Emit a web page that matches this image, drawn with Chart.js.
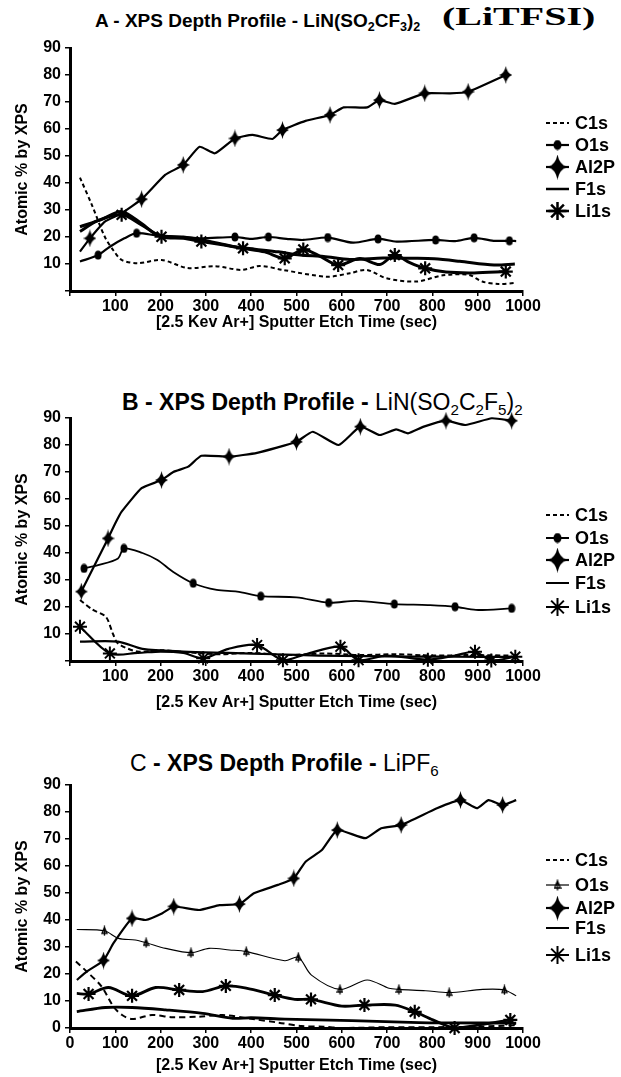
<!DOCTYPE html>
<html>
<head>
<meta charset="utf-8">
<script src="https://cdn.jsdelivr.net/npm/chart.js@4.4.0/dist/chart.umd.min.js"></script>
<style>
  body { margin: 0; background: #fff; width: 621px; height: 1077px; position: relative; overflow: hidden;
         font-family: "Liberation Sans", Arial, sans-serif; color: #000; }
  .panel { position: absolute; left: 0; width: 621px; }
  .title { position: absolute; font-weight: bold; white-space: nowrap; line-height: 1; }
  .title sub { font-size: 0.66em; vertical-align: -0.3em; line-height: 0; }
  .title .reg { font-weight: normal; }
  .serif { position: absolute; white-space: nowrap; line-height: 1; font-family: "Liberation Serif", "Times New Roman", serif;
           font-size: 25px; font-weight: bold; transform: scaleX(1.6); transform-origin: 0 0; }
</style>
</head>
<body>
<div class="title" style="left:95px; top:11px; font-size:19px;">A - XPS Depth Profile - LiN(SO<sub>2</sub>CF<sub>3</sub>)<sub>2</sub></div>
<div class="serif" style="left:442px; top:4px;">(LiTFSI)</div>
<div class="title" style="left:122px; top:391px; font-size:23px;">B - XPS Depth Profile - <span class="reg">LiN(SO<sub>2</sub>C<sub>2</sub>F<sub>5</sub>)<sub>2</sub></span></div>
<div class="title" style="left:130px; top:752px; font-size:23px;"><span class="reg">C</span> - XPS Depth Profile - <span class="reg">LiPF<sub>6</sub></span></div>

<div class="panel" style="top:0px; height:340px;"><canvas id="chartA" width="621" height="340"></canvas></div>
<div class="panel" style="top:370px; height:350px;"><canvas id="chartB" width="621" height="350"></canvas></div>
<div class="panel" style="top:737px; height:340px;"><canvas id="chartC" width="621" height="340"></canvas></div>

<script>
// ---- Data: sputter time (sec) and atomic % ----

// A - LiN(SO2CF3)2
const aC1sX  = [22, 48, 77, 96, 114, 150, 202, 260, 320, 379, 419, 470, 567, 618, 655, 699, 765, 823, 880, 910, 945, 985];
const aC1sY  = [42, 32, 20, 15, 11.5, 10.3, 11.5, 8.5, 9.2, 7.8, 9.3, 7.8, 5.3, 6.6, 7.8, 4.7, 3.5, 5.8, 6.0, 3.5, 2.6, 3];
const aO1sX  = [22, 62, 88, 120, 147, 194, 250, 290, 364, 400, 438, 478, 515, 569, 625, 680, 721, 807, 850, 892, 935, 970, 985];
const aO1sY  = [10.9, 13.3, 16.4, 19.5, 21.4, 20.5, 20, 19.5, 20, 19.3, 20, 19.3, 18.9, 19.8, 17.9, 19.3, 18.3, 18.9, 18.5, 19.7, 18.6, 18.6, 18.5];
const aO1sMarks = [1, 4, 8, 10, 13, 15, 17, 19, 21];
const aAl2pX = [22, 44, 77, 114, 158, 210, 250, 286, 320, 364, 403, 447, 469, 520, 574, 604, 656, 683, 717, 783, 839, 879, 962];
const aAl2pY = [14.6, 19.5, 25.7, 28.8, 34, 43, 46.7, 53.4, 51, 56.5, 57.8, 56.3, 59.6, 63, 65.2, 68, 68, 70.7, 69.3, 73.2, 73.2, 73.8, 80];
const aAl2pMarks = [1, 4, 6, 9, 12, 14, 17, 19, 21, 22];
const aF1sX  = [22, 70, 114, 158, 194, 250, 290, 364, 408, 460, 508, 560, 618, 691, 765, 804, 860, 936, 982];
const aF1sY  = [23.8, 26.5, 29.4, 25, 20.7, 20, 19, 16.4, 15.5, 14.5, 13.3, 12.8, 11.7, 12.2, 12.1, 11.9, 11, 9.6, 10];
const aLi1sX = [22, 60, 114, 158, 202, 250, 290, 340, 382, 430, 474, 515, 550, 592, 640, 684, 717, 750, 784, 830, 892, 962];
const aLi1sY = [22, 26, 28.2, 24.5, 20.1, 19.5, 18.3, 17, 15.8, 14.5, 12.1, 15.4, 13, 9.6, 12, 9.8, 13.3, 10.5, 8.4, 7, 6.7, 7.2];
const aLi1sMarks = [2, 4, 6, 8, 10, 11, 13, 16, 18, 21];

// B - LiN(SO2C2F5)2
const bC1sX  = [22, 50, 79, 95, 106, 149, 200, 260, 330, 400, 480, 560, 640, 720, 800, 880, 975];
const bC1sY  = [22.6, 19, 16.4, 10, 6.5, 3.5, 4, 3.2, 2.5, 3, 2.2, 2.8, 2.2, 2.5, 2, 2.2, 2];
const bO1sX  = [31, 62, 106, 119, 160, 193, 228, 272, 324, 369, 421, 500, 571, 632, 716, 790, 850, 896, 975];
const bO1sY  = [34.3, 35.5, 38, 41.7, 40, 37.4, 33, 28.8, 26.3, 25.7, 24, 23.6, 21.6, 22.3, 21.1, 20.7, 20.1, 18.9, 19.5];
const bO1sMarks = [0, 3, 7, 10, 12, 14, 16, 18];
const bAl2pX = [25, 84, 100, 114, 158, 202, 228, 261, 290, 351, 413, 500, 536, 593, 641, 684, 720, 746, 781, 830, 873, 931, 975];
const bAl2pY = [25.7, 45.4, 51, 55.3, 64, 67, 70, 72, 76, 75.7, 77.1, 81.2, 84.9, 80, 86.8, 83.7, 85.8, 84.3, 86.8, 89, 87.4, 89.9, 89];
const bAl2pMarks = [0, 1, 5, 9, 11, 14, 19, 22];
const bF1sX  = [22, 106, 160, 250, 350, 450, 550, 650, 750, 850, 975];
const bF1sY  = [7.2, 7.2, 4.5, 3.5, 3, 2.5, 2, 1.8, 1.6, 1.6, 1.5];
const bLi1sX = [22, 88, 150, 200, 250, 294, 350, 413, 470, 520, 597, 637, 700, 790, 850, 894, 930, 983];
const bLi1sY = [12.7, 2.8, 3, 3.5, 3, 1, 4.5, 5.9, 0.3, 2.5, 5.3, 0.3, 2, 0.5, 2, 3.4, 0.2, 1.6];
const bLi1sMarks = [0, 1, 5, 7, 8, 10, 11, 13, 15, 16, 17];

// C - LiPF6
const cC1sX  = [13, 37, 70, 96, 115, 137, 181, 226, 285, 337, 404, 460, 511, 560, 600, 700, 800, 900, 985];
const cC1sY  = [24.6, 20.9, 15.3, 7.9, 4.8, 3.3, 4.8, 4, 4.2, 4.8, 3.3, 2, 0.7, 0.5, 0, 0.3, 0.3, 0.5, 1];
const cO1sX  = [15, 76, 107, 144, 168, 211, 267, 307, 352, 389, 474, 504, 533, 596, 656, 704, 726, 785, 837, 911, 959, 985];
const cO1sY  = [36.5, 36, 33.2, 32.6, 31.6, 29.5, 27.9, 29.5, 28.9, 28.3, 24.9, 26.2, 19.6, 14.3, 17.8, 14.7, 14.3, 13.8, 13.1, 14.3, 14.1, 11.9];
const cO1sMarks = [1, 4, 6, 9, 11, 13, 16, 18, 20];
const cAl2pX = [15, 37, 74, 96, 137, 167, 204, 229, 285, 330, 374, 406, 459, 494, 520, 556, 590, 652, 687, 731, 810, 862, 898, 924, 955, 985];
const cAl2pY = [17.8, 20.9, 25, 31.4, 40.6, 40, 42.5, 45, 43.7, 45.5, 45.9, 49.9, 53, 55.4, 61.6, 65.9, 73.3, 70.3, 74, 75.2, 81.4, 84.4, 81.4, 84.4, 82.6, 84.4];
const cAl2pMarks = [2, 4, 7, 10, 13, 16, 19, 21, 24];
const cF1sX  = [15, 78, 137, 211, 293, 359, 400, 474, 622, 770, 844, 985];
const cF1sY  = [6.1, 7.6, 7.6, 6.7, 5.4, 3.6, 3.8, 3.3, 2.7, 2, 1.9, 1.8];
const cLi1sX = [15, 41, 85, 137, 189, 241, 293, 344, 389, 452, 496, 532, 600, 650, 718, 761, 801, 849, 898, 972];
const cLi1sY = [12.8, 12.6, 15, 11.9, 15, 14.1, 13.5, 15.6, 14.8, 12.2, 10.6, 10.6, 8.1, 8.5, 8.5, 6, 3, 0, 1, 3];
const cLi1sMarks = [1, 3, 5, 7, 9, 11, 13, 15, 17, 19];

const xTicks = [0, 100, 200, 300, 400, 500, 600, 700, 800, 900, 1000];
const yTicks = [0, 10, 20, 30, 40, 50, 60, 70, 80, 90];
const seriesNames = ['C1s', 'O1s', 'Al2P', 'F1s', 'Li1s'];

// ---- marker images ----
function fourStar(w, h) {
  const c = document.createElement('canvas');
  c.width = w; c.height = h;
  const g = c.getContext('2d');
  const cx = w / 2, cy = h / 2;
  g.fillStyle = '#000';
  g.beginPath();
  g.moveTo(cx, 0);
  g.quadraticCurveTo(cx + w * 0.1, cy - h * 0.1, w, cy);
  g.quadraticCurveTo(cx + w * 0.1, cy + h * 0.1, cx, h);
  g.quadraticCurveTo(cx - w * 0.1, cy + h * 0.1, 0, cy);
  g.quadraticCurveTo(cx - w * 0.1, cy - h * 0.1, cx, 0);
  g.fill();
  return c;
}
function dot(w, h) {
  const c = document.createElement('canvas');
  c.width = w; c.height = h;
  const g = c.getContext('2d');
  g.fillStyle = '#000';
  g.beginPath();
  g.ellipse(w / 2, h / 2, w / 2 - 0.5, h / 2 - 0.5, 0, 0, Math.PI * 2);
  g.fill();
  return c;
}
function hollowTick(w, h) {
  const c = document.createElement('canvas');
  c.width = w; c.height = h;
  const g = c.getContext('2d');
  g.strokeStyle = '#000';
  g.lineWidth = 1.3;
  g.beginPath();
  g.moveTo(w / 2, 0.5); g.lineTo(w / 2, h - 0.5);
  g.moveTo(w / 2, 2); g.lineTo(w - 1, h - 3); g.lineTo(1, h - 3); g.closePath();
  g.stroke();
  return c;
}

const starSmall = fourStar(13, 18);
const starLegend = fourStar(19, 25);
const dotSmall = dot(8, 10);
const dotLegend = dot(9, 11);
const tickSmall = hollowTick(7, 11);
const tickLegend = hollowTick(8, 12);

function series(label, xs, ys, marks, st) {
  return {
    label: label,
    data: xs.map((x, i) => ({ x: x, y: ys[i] })),
    borderColor: '#000',
    backgroundColor: '#000',
    borderWidth: st.width,
    borderDash: st.dash || [],
    tension: st.tension !== undefined ? st.tension : 0.3,
    pointStyle: st.point || 'circle',
    pointRadius: ctx => (marks && marks.includes(ctx.dataIndex)) ? (st.radius || 5) : 0,
    pointBorderWidth: st.pointWidth || 1,
    pointBorderColor: '#000',
    pointBackgroundColor: '#000',
    clip: false,
    fill: false
  };
}

// legend drawn at the right of each panel: short line + marker + label
function sideLegend(rows, ys) {
  return {
    id: 'sideLegend',
    afterDraw(chart) {
      const ctx = chart.ctx;
      ctx.save();
      ctx.font = 'bold 18px "Liberation Sans", Arial, sans-serif';
      ctx.textBaseline = 'middle';
      ctx.fillStyle = '#000';
      rows.forEach((r, i) => {
        const y = ys[i];
        ctx.strokeStyle = '#000';
        ctx.lineWidth = r.width;
        ctx.setLineDash(r.dash || []);
        ctx.beginPath();
        ctx.moveTo(546, y);
        ctx.lineTo(569, y);
        ctx.stroke();
        ctx.setLineDash([]);
        if (r.point) {
          Chart.helpers.drawPoint(ctx, { pointStyle: r.point, radius: r.radius || 6, borderWidth: r.pointWidth || 2, rotation: 0 }, 557.5, y);
        }
        ctx.fillText(seriesNames[i], 575, y + 1);
      });
      ctx.restore();
    }
  };
}

function makeChart(id, sets, legendRows, legendYs, showZero, xAxisHeight, padBottom) {
  const tickFont = { family: '"Liberation Sans", Arial, sans-serif', size: 16, weight: 'bold' };
  const titleFont = { family: '"Liberation Sans", Arial, sans-serif', size: 16, weight: 'bold' };
  return new Chart(document.getElementById(id), {
    type: 'line',
    data: { datasets: sets },
    options: {
      responsive: false,
      animation: false,
      events: [],
      layout: { padding: { left: 13, right: 98, top: 48, bottom: padBottom } },
      plugins: { legend: { display: false }, tooltip: { enabled: false } },
      scales: {
        x: {
          type: 'linear', min: 0, max: 1000,
          afterBuildTicks: s => { s.ticks = xTicks.map(v => ({ value: v })); },
          afterFit: s => { s.height = xAxisHeight; },
          border: { display: true, color: '#000', width: 3 },
          grid: { drawOnChartArea: false, drawTicks: true, tickLength: 5, color: '#000', lineWidth: 1.5 },
          ticks: { color: '#000', font: tickFont, padding: 1, maxRotation: 0, autoSkip: false,
                   callback: v => (v === 0 && !showZero) ? '' : v },
          title: { display: true, text: '[2.5 Kev Ar+] Sputter Etch Time (sec)', color: '#000', font: titleFont,
                   padding: { top: 0, bottom: 0 } }
        },
        y: {
          type: 'linear', min: 0, max: 90,
          afterBuildTicks: s => { s.ticks = yTicks.map(v => ({ value: v })); },
          afterFit: s => { s.width = 57; },
          border: { display: true, color: '#000', width: 3 },
          grid: { drawOnChartArea: false, drawTicks: true, tickLength: 5, color: '#000', lineWidth: 1.5 },
          ticks: { color: '#000', font: tickFont, padding: 4,
                   callback: v => (v === 0 && !showZero) ? '' : v },
          title: { display: true, text: 'Atomic % by XPS', color: '#000', font: titleFont,
                   padding: { top: 0, bottom: 0 } }
        }
      }
    },
    plugins: [sideLegend(legendRows, legendYs)]
  });
}

// Panel A
makeChart('chartA', [
  series('C1s', aC1sX, aC1sY, null, { width: 2, dash: [4, 3] }),
  series('O1s', aO1sX, aO1sY, aO1sMarks, { width: 2.2, point: dotSmall }),
  series('Al2P', aAl2pX, aAl2pY, aAl2pMarks, { width: 2.2, point: starSmall, tension: 0.15 }),
  series('F1s', aF1sX, aF1sY, null, { width: 3 }),
  series('Li1s', aLi1sX, aLi1sY, aLi1sMarks, { width: 3, point: 'star', radius: 7, pointWidth: 2.2 })
], [
  { width: 2, dash: [4, 3] },
  { width: 2.2, point: dotLegend },
  { width: 2.2, point: starLegend },
  { width: 2.5 },
  { width: 2.5, point: 'star', radius: 9, pointWidth: 2.5 }
], [123, 145, 167, 189, 211], false, 41, 8);

// Panel B
makeChart('chartB', [
  series('C1s', bC1sX, bC1sY, null, { width: 2, dash: [5, 3] }),
  series('O1s', bO1sX, bO1sY, bO1sMarks, { width: 1.8, point: dotSmall }),
  series('Al2P', bAl2pX, bAl2pY, bAl2pMarks, { width: 2.2, point: starSmall, tension: 0.15 }),
  series('F1s', bF1sX, bF1sY, null, { width: 2.2 }),
  series('Li1s', bLi1sX, bLi1sY, bLi1sMarks, { width: 2.2, point: 'star', radius: 7, pointWidth: 2 })
], [
  { width: 2, dash: [4, 3] },
  { width: 2, point: dotLegend },
  { width: 2.2, point: starLegend },
  { width: 2 },
  { width: 2, point: 'star', radius: 9, pointWidth: 2.2 }
], [145, 168, 190, 213, 237], false, 51, 8);

// Panel C
makeChart('chartC', [
  series('C1s', cC1sX, cC1sY, null, { width: 2, dash: [6, 4] }),
  series('O1s', cO1sX, cO1sY, cO1sMarks, { width: 1.1, point: tickSmall }),
  series('Al2P', cAl2pX, cAl2pY, cAl2pMarks, { width: 2.2, point: starSmall, tension: 0.15 }),
  series('F1s', cF1sX, cF1sY, null, { width: 2.8 }),
  series('Li1s', cLi1sX, cLi1sY, cLi1sMarks, { width: 2.8, point: 'star', radius: 7, pointWidth: 2.2 })
], [
  { width: 2, dash: [4, 3] },
  { width: 1.2, point: tickLegend },
  { width: 2.2, point: starLegend },
  { width: 2 },
  { width: 2, point: 'star', radius: 9, pointWidth: 2.2 }
], [123, 148, 171, 191, 218], true, 47, 2);
</script>
</body>
</html>
